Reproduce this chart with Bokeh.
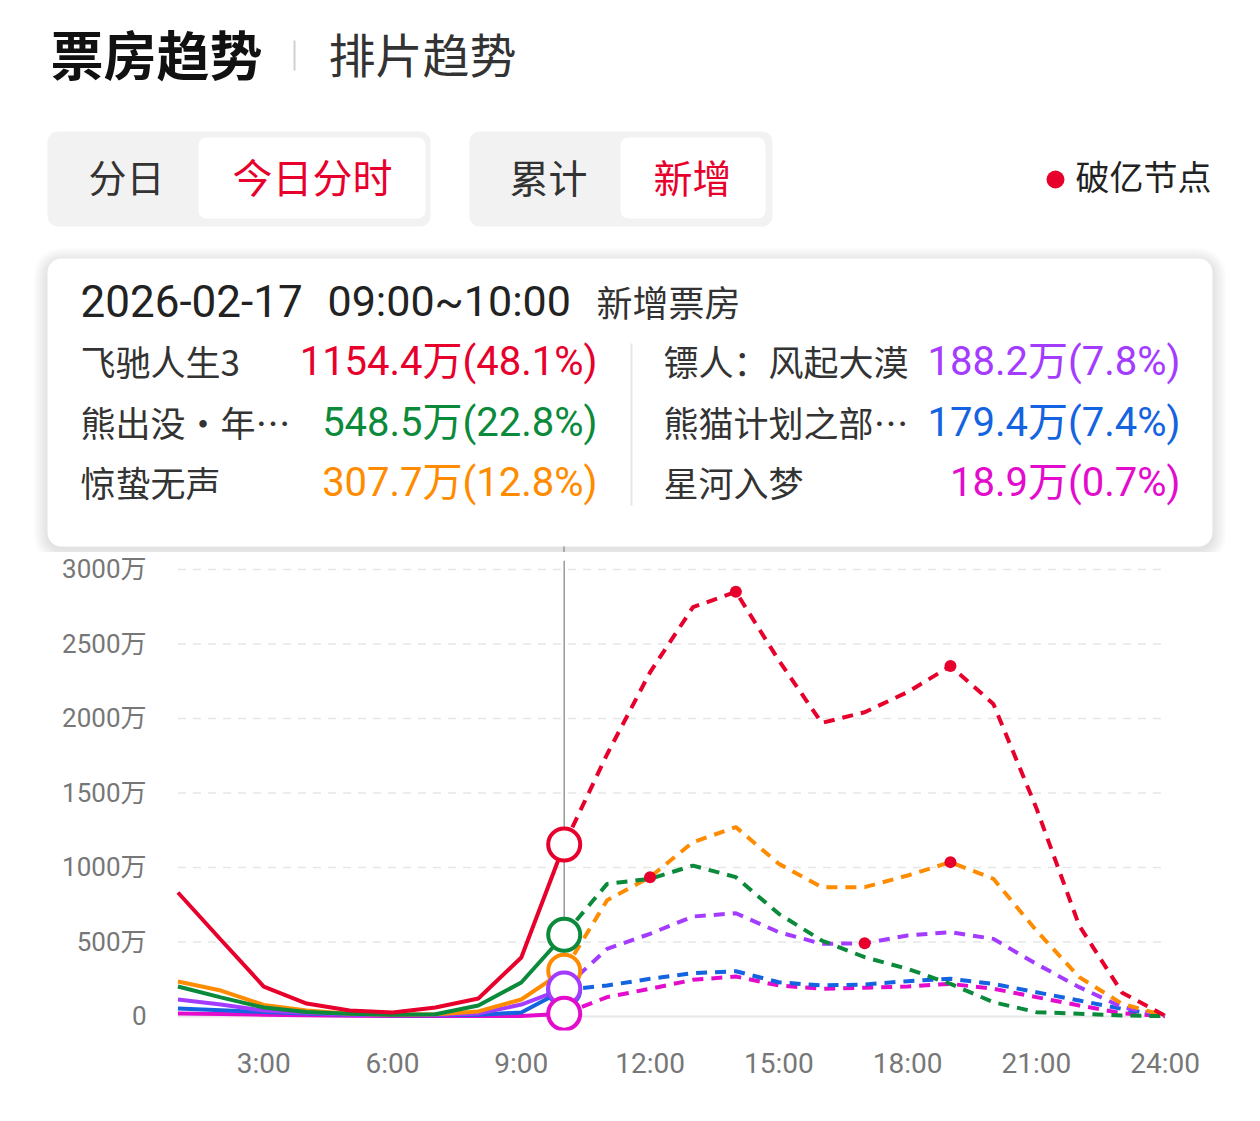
from bokeh.plotting import figure
from bokeh.models import Range1d, FixedTicker, BoxAnnotation
from bokeh.core.properties import value
from bokeh.embed import file_html
from bokeh.resources import INLINE

# ---------------- data ----------------
hours = list(range(1, 25))
current_hour = 10
series_names = ["飞驰人生3", "熊出没·年…", "惊蛰无声", "镖人：风起大漠", "熊猫计划之部…", "星河入梦"]
series_colors = ["#e8002c", "#0b8a3b", "#ff8c00", "#a43cff", "#1463e0", "#e30ccc"]
red_vals = [832, 515, 201, 87, 40, 27, 60, 121, 396, 1154.4, 1760, 2310, 2747, 2850, 2390, 1970, 2042, 2177, 2352, 2098, 1400, 610, 160, 5]
green_vals = [201, 128, 60, 30, 18, 12, 15, 74, 228, 548.5, 890, 924, 1013, 935, 689, 510, 398, 320, 219, 96, 29, 18, 7, 2]
orange_vals = [235, 174, 78, 40, 18, 12, 15, 34, 114, 307.7, 780, 935, 1170, 1271, 1025, 868, 868, 946, 1036, 924, 577, 264, 85, 5]
purple_vals = [114, 80, 40, 25, 12, 8, 10, 20, 80, 188.2, 454, 555, 671, 693, 566, 488, 491, 544, 566, 521, 353, 197, 63, 3]
blue_vals = [54, 42, 30, 20, 12, 8, 8, 12, 27, 179.4, 208, 253, 291, 304, 230, 208, 215, 237, 253, 219, 163, 107, 51, 3]
magenta_vals = [20, 16, 12, 8, 5, 4, 4, 4, 3, 18.9, 130, 186, 246, 268, 208, 186, 193, 202, 219, 186, 130, 74, 22, 2]
series_vals = [red_vals, green_vals, orange_vals, purple_vals, blue_vals, magenta_vals]
shares = [48.1, 22.8, 12.8, 7.8, 7.4, 0.7]
milestones = [(0, 14), (0, 19), (2, 12), (2, 19), (3, 17)]  # (series index, hour)
y_ticks = [0, 500, 1000, 1500, 2000, 2500, 3000]
y_tick_labels = ["0", "500万", "1000万", "1500万", "2000万", "2500万", "3000万"]
x_ticks = [3, 6, 9, 12, 15, 18, 21, 24]
x_tick_labels = ["3:00", "6:00", "9:00", "12:00", "15:00", "18:00", "21:00", "24:00"]
date_text = "2026-02-17"
time_text = "09:00~10:00"

CJK = "Noto Sans CJK SC"
NUM = "Roboto, Noto Sans CJK SC"

# ---------------- header figure (page coordinates) ----------------
HH = 552
W = 1244
h = figure(width=W, height=HH, x_range=Range1d(0, W), y_range=Range1d(0, HH),
           toolbar_location=None, output_backend="svg", min_border=0)
h.axis.visible = False
h.grid.visible = False
h.outline_line_color = None
h.background_fill_color = "white"


def Y(py):
    return HH - py


def txt(x, y, s, size, color, font=CJK, align="left", style="normal"):
    h.text(x=[x], y=[Y(y - 3)], text=[s], text_font=value(font), text_font_size=f"{size}px",
           text_color=color, text_align=align, text_baseline="middle", text_font_style=style)


def rbox(l, r, t, b, color, radius, alpha=1.0):
    h.add_layout(BoxAnnotation(left=l, right=r, top=Y(t), bottom=Y(b), fill_color=color,
                               fill_alpha=alpha, line_color=None, border_radius=radius,
                               level="underlay"))


# title
txt(50, 55, "票房趋势", 53, "#111111", style="bold")
h.segment(x0=[294], y0=[Y(40)], x1=[294], y1=[Y(70)], line_color="#d0d0d0", line_width=2)
txt(328, 55, "排片趋势", 47, "#333333")

# tab groups
rbox(47, 430, 131, 226, "#f2f2f2", 10)
rbox(198, 425, 137, 218, "white", 8)
rbox(469, 772, 131, 226, "#f2f2f2", 10)
rbox(620, 765, 137, 218, "white", 8)
txt(126, 178, "分日", 38, "#333333", align="center")
txt(312, 178, "今日分时", 40, "#e8002c", align="center")
txt(548, 178, "累计", 39, "#333333", align="center")
txt(692, 178, "新增", 39, "#e8002c", align="center")

# legend
h.scatter(x=[1055], y=[Y(179)], size=18, fill_color="#e8002c", line_color=None)
txt(1075, 178, "破亿节点", 34, "#222222")

# tooltip box with soft shadow
for i in range(14, 0, -1):
    rbox(47 - i, 1212 + i, 258 - i + 3, 546 + i + 3, "black", 14 + i, alpha=0.006)
rbox(47, 1212, 258, 546, "white", 14)

txt(80, 303, date_text, 44, "#222222", font=NUM)
txt(327, 303, time_text, 43, "#222222", font=NUM)
txt(596, 303, "新增票房", 36, "#333333")

row_y = [363, 424, 484]
for i in range(6):
    col_i, row_i = divmod(i, 3)
    name_x = 80 if col_i == 0 else 663
    val_x = 597 if col_i == 0 else 1180
    yy = row_y[row_i]
    txt(name_x, yy, series_names[i], 35, "#333333")
    cur = series_vals[i][hours.index(current_hour)]
    txt(val_x, yy + 1, f"{cur}万({shares[i]}%)", 40, series_colors[i], font=NUM, align="right")
h.segment(x0=[631], y0=[Y(343)], x1=[631], y1=[Y(505)], line_color="#e6e6e6", line_width=2)
# start of the crosshair just below the tooltip
h.segment(x0=[563.5], y0=[Y(546)], x1=[563.5], y1=[0], line_color="#999999", line_width=1.5)

# ---------------- chart figure ----------------
p = figure(width=W, height=569, x_range=Range1d(0.85, 24.15), y_range=Range1d(-94, 3060.4),
           toolbar_location=None, output_backend="svg",
           min_border_left=171, min_border_right=73, min_border_top=8, min_border_bottom=91)
p.outline_line_color = None
p.grid.visible = False

for ax in (p.xaxis[0], p.yaxis[0]):
    ax.axis_line_color = None
    ax.major_tick_line_color = None
    ax.minor_tick_line_color = None
    ax.major_tick_out = 0
    ax.major_tick_in = 0
    ax.major_label_text_color = "#777777"
    ax.major_label_text_font = NUM
p.xaxis.ticker = FixedTicker(ticks=x_ticks)
p.xaxis.major_label_overrides = dict(zip(x_ticks, x_tick_labels))
p.xaxis.major_label_text_font_size = "28px"
p.xaxis.major_label_standoff = 16
p.yaxis.ticker = FixedTicker(ticks=y_ticks)
p.yaxis.major_label_overrides = dict(zip(y_ticks, y_tick_labels))
p.yaxis.major_label_text_font_size = "26px"
p.yaxis.major_label_standoff = 25

# grid lines
gt = y_ticks[1:]
p.segment(x0=[hours[0]] * len(gt), x1=[hours[-1]] * len(gt), y0=gt, y1=gt,
          line_color="#e6e6e6", line_width=1.5, line_dash="8 7")
p.segment(x0=[hours[0]], x1=[hours[-1]], y0=[0], y1=[0], line_color="#e8e8e8", line_width=2)

# crosshair
p.segment(x0=[current_hour], x1=[current_hour], y0=[0], y1=[3060.4], line_color="#999999", line_width=1.5)

ci = hours.index(current_hour)
draw_order = [5, 4, 3, 2, 1, 0]
for i in draw_order:
    vals = series_vals[i]
    p.line(hours[:ci + 1], vals[:ci + 1], line_color=series_colors[i], line_width=4)
    p.line(hours[ci:], vals[ci:], line_color=series_colors[i], line_width=4, line_dash="11 8")

# milestone dots
mx = [hh for (si, hh) in milestones]
my = [series_vals[si][hours.index(hh)] for (si, hh) in milestones]
p.scatter(mx, my, size=12, fill_color="#e8002c", line_color=None)

# current-hour circles
for i in [4, 2, 1, 3, 5, 0]:
    p.scatter([current_hour], [series_vals[i][ci]], size=32, fill_color="white",
              line_color=series_colors[i], line_width=4)

open("out.html", "w").write(file_html([h, p], INLINE))
